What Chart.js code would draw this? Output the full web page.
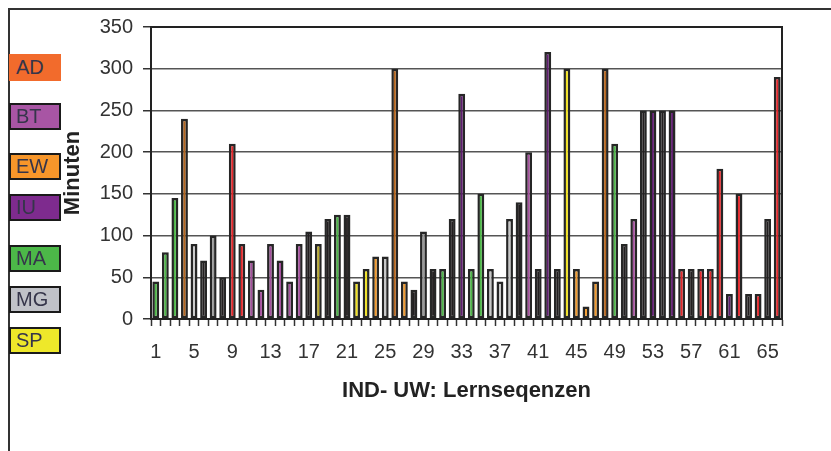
<!DOCTYPE html>
<html>
<head>
<meta charset="utf-8">
<script src="https://cdn.jsdelivr.net/npm/chart.js@4/dist/chart.umd.min.js"></script>
<style>
  body { margin: 0; background: #fff; }
  #wrap { position: relative; width: 831px; height: 451px; overflow: hidden; font-family: "Liberation Sans", Arial, sans-serif; }
  #frameTop { position: absolute; left: 8px; top: 8px; width: 823px; height: 2px; background: #333; }
  #frameLeft { position: absolute; left: 8px; top: 8px; width: 2px; height: 443px; background: #333; }
  canvas { position: absolute; left: 0; top: 0; }
  .leg { position: absolute; left: 9px; width: 52px; height: 27px; box-sizing: border-box; border: 2px solid #1a1a1a;
         font-size: 20px; line-height: 23px; padding-left: 5px; color: #35354a; }
</style>
</head>
<body>
<div id="wrap">
  <div id="frameTop"></div>
  <div id="frameLeft"></div>
  <canvas id="chart" width="831" height="451"></canvas>
  <div id="legend"></div>
</div>
<script>
// Lernsequenzen 1..66, Dauer in Minuten, Kategorie je Sequenz ('-' = ohne)
const sequenzen = Array.from({length: 66}, (_, i) => String(i + 1));
const minuten = [45, 80, 145, 240, 90, 70, 100, 50, 210, 90,
                 70, 35, 90, 70, 45, 90, 105, 90, 120, 125,
                 125, 45, 60, 75, 75, 300, 45, 35, 105, 60,
                 60, 120, 270, 60, 150, 60, 45, 120, 140, 200,
                 60, 320, 60, 300, 60, 15, 45, 300, 210, 90,
                 120, 250, 250, 250, 250, 60, 60, 60, 60, 180,
                 30, 150, 30, 30, 120, 290];
const kategorie = ['MA', 'MA', 'MA', 'EW2', 'MG', '-', 'MG2', '-', 'AD', 'AD',
                   'BT', 'BT', 'BT', 'BT', 'BT', 'BT', '-', 'SP2', '-', 'MA',
                   '-', 'SP', 'SP', 'EW', 'MG', 'EW2', 'EW', '-', 'MG2', '-',
                   'MA', '-', 'IU', 'MA', 'MA', 'MG', 'MG', 'MG', '-', 'BT',
                   '-', 'IU', '-', 'SP', 'EW', 'EW', 'EW', 'EW2', 'MA', '-',
                   'BT', '-', 'IU', '-', 'IU', 'AD', '-', 'AD', 'AD', 'AD',
                   'IU', 'AD', '-', 'AD', '-', 'AD'];
const legende = ['AD', 'BT', 'EW', 'IU', 'MA', 'MG', 'SP'];

const barColors = {
  'AD': '#e4262a', 'BT': '#a5509e', 'EW': '#f39a2b', 'EW2': '#b5651d', 'IU': '#5e1e6e',
  'MA': '#4db848', 'MG': '#c8c8c8', 'MG2': '#9a9a9a', 'SP': '#f2e21e', 'SP2': '#b8a82a', '-': '#231f20'
};
const legendColors = {
  'AD': '#f26b2c', 'BT': '#a855a4', 'EW': '#f7962a', 'IU': '#7e2b8e', 'MA': '#4cb848', 'MG': '#c0c2c8', 'SP': '#eee82a'
};
const legendTops = [54, 103, 153, 194, 245, 286, 327];

legende.forEach((k, i) => {
  const d = document.createElement('div');
  d.className = 'leg';
  d.textContent = k;
  d.style.top = legendTops[i] + 'px';
  d.style.background = legendColors[k];
  if (k === 'AD') d.style.borderColor = legendColors[k];
  document.getElementById('legend').appendChild(d);
});

const font = "'Liberation Sans', Arial, sans-serif";

const plotBox = {
  id: 'plotBox',
  afterDraw(chart) {
    const {ctx, chartArea: a} = chart;
    ctx.save();
    ctx.strokeStyle = '#222';
    ctx.lineWidth = 2;
    ctx.beginPath();
    ctx.moveTo(a.left, a.top);
    ctx.lineTo(a.right, a.top);
    ctx.lineTo(a.right, a.bottom);
    ctx.stroke();
    ctx.restore();
  }
};

new Chart(document.getElementById('chart').getContext('2d'), {
  type: 'bar',
  plugins: [plotBox],
  data: {
    labels: sequenzen,
    datasets: [{
      data: minuten,
      backgroundColor: kategorie.map((k) => barColors[k]),
      borderColor: '#262626',
      borderWidth: 2.5,
      borderSkipped: false,
      barPercentage: 0.72,
      categoryPercentage: 1
    }]
  },
  options: {
    responsive: false,
    animation: false,
    layout: {
      padding: { left: 60, top: 27, right: 49, bottom: 0 }
    },
    plugins: {
      legend: { display: false },
      tooltip: { enabled: false }
    },
    scales: {
      x: {
        afterFit: (s) => { s.height = 132; },
        grid: { drawOnChartArea: false, tickLength: 7, tickColor: '#333', tickWidth: 1.5 },
        border: { color: '#222', width: 2 },
        ticks: {
          autoSkip: false,
          maxRotation: 0,
          padding: 14,
          color: '#333',
          font: { family: font, size: 20 },
          callback: (v, i) => (i % 4 === 0 ? sequenzen[i] : '')
        },
        title: {
          display: true,
          text: 'IND- UW: Lernseqenzen',
          color: '#222',
          font: { family: font, size: 22, weight: 'bold' },
          padding: { top: 0, bottom: 47 }
        }
      },
      y: {
        min: 0,
        max: 350,
        afterFit: (s) => { s.width = 91; },
        grid: { color: '#555', lineWidth: 1.5, tickLength: 8, tickColor: '#333' },
        border: { color: '#222', width: 2 },
        ticks: {
          stepSize: 50,
          padding: 10,
          color: '#333',
          font: { family: font, size: 20 }
        },
        title: {
          display: true,
          text: 'Minuten',
          color: '#222',
          font: { family: font, size: 22, weight: 'bold' },
          padding: 0
        }
      }
    }
  }
});
</script>
</body>
</html>
